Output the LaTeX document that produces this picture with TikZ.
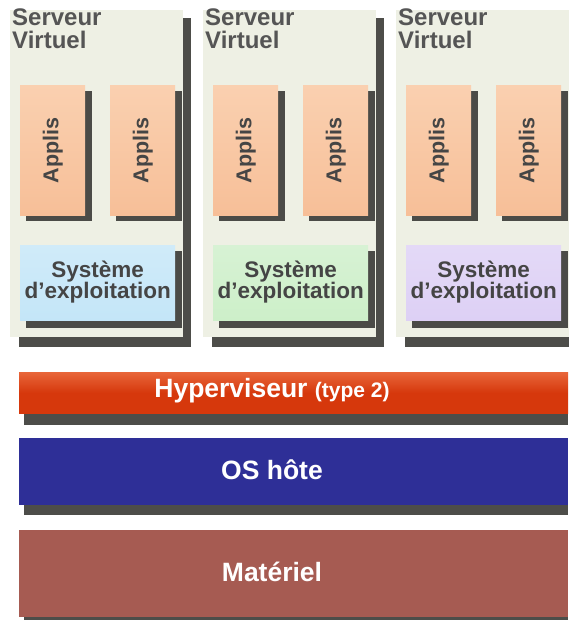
\documentclass[tikz,border=0pt]{standalone}
\usepackage{fontspec}
\setmainfont{Liberation Sans}
\definecolor{panelbg}{HTML}{EEF0E4}
\definecolor{shadowc}{HTML}{3A3A36}
\definecolor{appc}{HTML}{F7BF98}
\definecolor{apptop}{HTML}{FAD0B0}
\definecolor{osa}{HTML}{C4E6F8}
\definecolor{osb}{HTML}{CDEFC9}
\definecolor{osc}{HTML}{DDD0F5}
\definecolor{hypc}{HTML}{D6380C}
\definecolor{hyptop}{HTML}{E8663A}
\definecolor{hostc}{HTML}{2E2F97}
\definecolor{matc}{HTML}{A65B52}
\definecolor{txtdark}{HTML}{454545}
\definecolor{paneltxt}{HTML}{555555}
\tikzset{
  shadowbox/.style={fill=shadowc, draw=none, opacity=0.9},
  panelbox/.style={fill=panelbg, draw=none, anchor=north west, inner sep=0pt},
  appbox/.style={top color=apptop, bottom color=appc, draw=none, anchor=north west, inner sep=0pt,
    minimum width=65pt, minimum height=130pt},
  apptext/.style={text=txtdark, font=\fontsize{21.5}{22}\selectfont\bfseries, rotate=90},
  osbox/.style={draw=none, anchor=north west, inner sep=0pt, minimum width=155pt, minimum height=75pt},
  ostext/.style={text=txtdark, align=center, font=\fontsize{22.5}{21}\selectfont\bfseries},
  titletext/.style={anchor=north west, inner sep=0pt, align=left, text=paneltxt,
    font=\fontsize{24}{23}\selectfont\bfseries},
  barbox/.style={draw=none, anchor=north west, inner sep=0pt, minimum width=549pt},
  bartext/.style={text=white, font=\fontsize{26.5}{27}\selectfont\bfseries},
}
\begin{document}
\begin{tikzpicture}[x=1pt, y=-1pt]
\useasboundingbox (0,0) rectangle (568,620);
\fill[white] (0,0) rectangle (568,620);
% panels
\foreach \i/\xx/\oscol in {1/10/osa, 2/203/osb, 3/396/osc}{
  \fill[shadowbox] (\xx+9,18) rectangle (\xx+181,347);
  \node[panelbox, minimum width=173pt, minimum height=327pt] (p\i) at (\xx,10) {};
  \node[titletext] (t\i) at (\xx+2,9) {Serveur\\Virtuel};
  \fill[shadowbox] (\xx+16,91) rectangle (\xx+82,221);
  \fill[shadowbox] (\xx+106,91) rectangle (\xx+172,221);
  \node[appbox] (a\i a) at (\xx+10,85) {};
  \node[apptext] at (a\i a.center) {Applis};
  \node[appbox] (a\i b) at (\xx+100,85) {};
  \node[apptext] at (a\i b.center) {Applis};
  \fill[shadowbox] (\xx+16,251) rectangle (\xx+172,328);
  \node[osbox, top color=\oscol!80!white, bottom color=\oscol] (o\i) at (\xx+10,245) {};
  \node[ostext] at ([yshift=1pt]o\i.center) {Système\\d’exploitation};
}
% bars
\fill[shadowbox] (24,378) rectangle (568,425);
\node[barbox, minimum height=41pt, top color=hyptop, bottom color=hypc, middle color=hypc] (hyp) at (19,372) {};
\node[bartext] (hypt) at (272,391) {Hyperviseur \fontsize{21}{22}\selectfont(type 2)};
\fill[shadowbox] (24,444) rectangle (568,515);
\node[barbox, minimum height=67pt, fill=hostc] (host) at (19,438) {};
\node[bartext] (hostt) at (272,470) {OS hôte};
\fill[shadowbox] (24,536) rectangle (568,620);
\node[barbox, minimum height=87pt, fill=matc] (mat) at (19,530) {};
\node[bartext] (matt) at (272,572) {Matériel};
\end{tikzpicture}
\end{document}
